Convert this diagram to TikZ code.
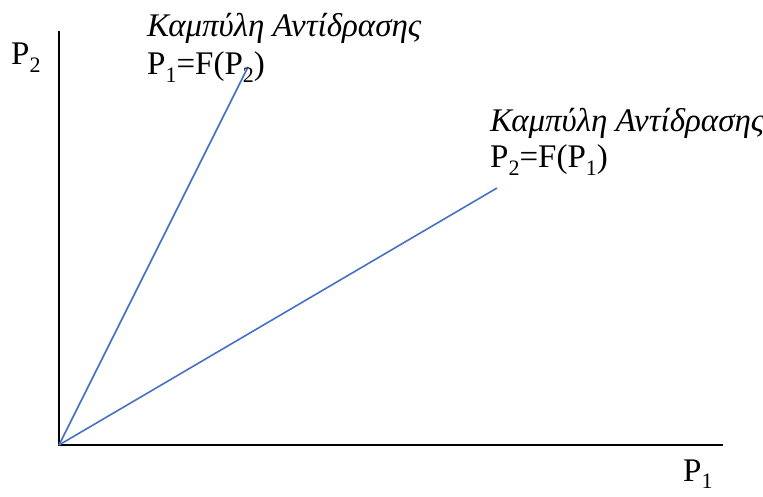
\documentclass[tikz,border=0pt]{standalone}
\usepackage{fontspec}
\setmainfont{Liberation Serif}
\usetikzlibrary{positioning}
\newcommand{\psub}[1]{\raisebox{-0.22em}{\fontsize{22}{22}\selectfont #1}}

\begin{document}
\begin{tikzpicture}[
        x=1pt, y=-1pt,
        axis/.style={draw=black, line width=2pt},
        curve/.style={draw={rgb,255:red,68;green,114;blue,196}, line width=1.6pt},
        lbl/.style={font=\fontsize{33}{38}\selectfont, inner sep=0pt, anchor=base west}
    ]
        \useasboundingbox (0,0) rectangle (763,497);
        \coordinate (o) at (59,445);
        \coordinate (ytop) at (59,31);
        \coordinate (xend) at (723,445);
        \coordinate (r1) at (248,67);
        \coordinate (r2) at (497,188);
        \draw[axis] (ytop) -- (o) -- (xend);
        \draw[curve] (o) -- (r1);
        \draw[curve] (o) -- (r2);
        \node[lbl] (ylab) at (11,65) {P\psub{2}};
        \node[lbl] (xlab) at (683,481) {P\psub{1}};
        \node[lbl] (name1) at (147,37) {\itshape Καμπύλη Αντίδρασης};
        \node[lbl] (eq1) at (147,75) {P\psub{1}=F(P\psub{2})};
        \node[lbl] (name2) at (490,132) {\itshape Καμπύλη Αντίδρασης};
        \node[lbl] (eq2) at (490,168) {P\psub{2}=F(P\psub{1})};
    \end{tikzpicture}
\end{document}
